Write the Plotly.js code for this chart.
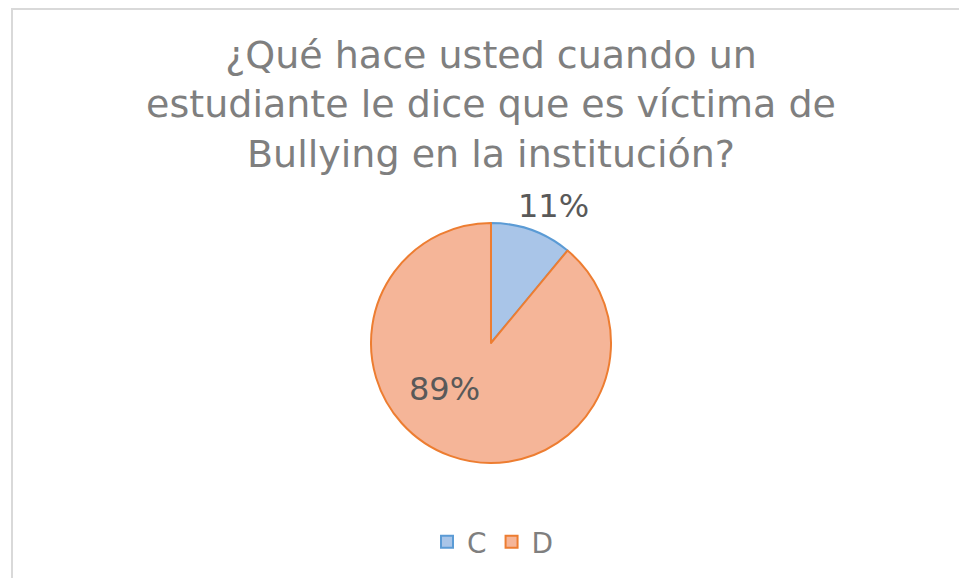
<!DOCTYPE html>
<html>
<head>
<meta charset="utf-8">
<script src="https://cdn.plot.ly/plotly-3.0.1.min.js"></script>
<style>
html,body{margin:0;padding:0;background:#fff;}
#wrap{position:relative;width:959px;height:578px;}
#chart{position:absolute;left:0;top:0;width:959px;height:578px;}
#frame{position:absolute;left:11px;top:8px;width:948px;height:570px;border-left:2px solid #d9d9d9;border-top:2px solid #d9d9d9;box-sizing:border-box;pointer-events:none;}
</style>
</head>
<body>
<div id="wrap"><div id="chart"></div><div id="frame"></div></div>
<script>
const categories = ["C", "D"];
const values = [11, 89];
const fillColors = ["#a9c5e8", "#f5b598"];
const lineColors = ["#5b9bd5", "#ed7d31"];
const titleText = "¿Qué hace usted cuando un<br>estudiante le dice que es víctima de<br>Bullying en la institución?";

const W = 959, H = 578;
const cx = 491, cy = 343, r = 120;
const FONT = "DejaVu Sans, Verdana, sans-serif";

const total = values.reduce((a, b) => a + b, 0);
const pctText = values.map(v => Math.round(100 * v / total) + "%");
const labelPos = [[62, -137], [-47, 46]];

const data = [{
  type: "pie",
  labels: categories,
  values: values,
  sort: false,
  direction: "clockwise",
  rotation: 0,
  textinfo: "none",
  marker: {colors: fillColors, line: {color: lineColors, width: 2}},
  domain: {x: [(cx - r) / W, (cx + r) / W], y: [(H - cy - r) / H, (H - cy + r) / H]},
  hoverinfo: "none"
}];

const annotations = pctText.map((t, i) => ({
  text: t,
  xref: "paper", yref: "paper",
  x: (cx + labelPos[i][0]) / W,
  y: 1 - (cy + labelPos[i][1]) / H,
  xanchor: "center", yanchor: "middle",
  showarrow: false,
  font: {family: FONT, size: 32, color: "#595959"}
}));

const layout = {
  width: W, height: H,
  margin: {l: 0, r: 0, t: 0, b: 0},
  paper_bgcolor: "#ffffff",
  showlegend: true,
  title: {
    text: titleText,
    font: {family: FONT, size: 38, color: "#7f7f7f"},
    x: 491 / W, xanchor: "center",
    y: 1 - 68 / H, yanchor: "top",
    xref: "paper", yref: "paper"
  },
  annotations: annotations,
  legend: {
    orientation: "h",
    x: 493 / W, xanchor: "center",
    y: 1 - 542 / H, yanchor: "middle",
    font: {family: FONT, size: 28, color: "#7f7f7f"},
    itemwidth: 30
  }
};

Plotly.newPlot("chart", data, layout, {displayModeBar: false, staticPlot: true});
</script>
</body>
</html>
